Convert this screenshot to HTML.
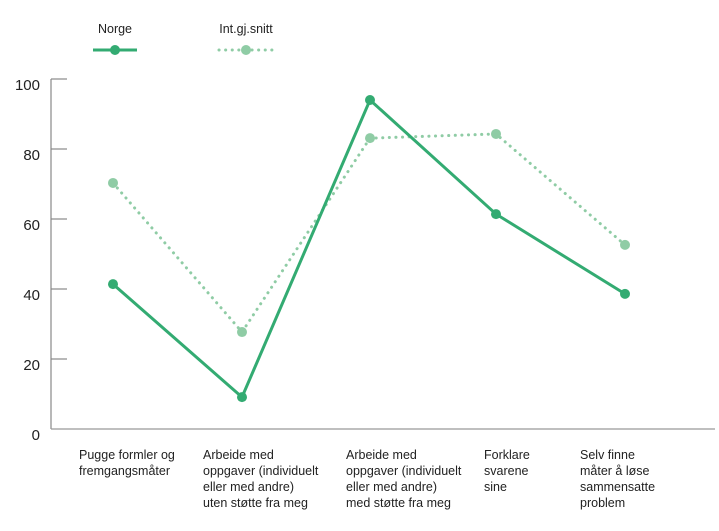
<!DOCTYPE html>
<html><head><meta charset="utf-8"><style>
body{margin:0;background:#fff;}
svg{display:block;font-family:"Liberation Sans",sans-serif;}
</style></head><body>
<svg id="c" width="719" height="531">
<g>
<text x="115" y="33" font-size="12.5" fill="#222" text-anchor="middle">Norge</text>
<line x1="93" y1="50" x2="137" y2="50" stroke="#33ab72" stroke-width="3"/>
<circle cx="115" cy="50" r="5" fill="#33ab72"/>
<text x="246" y="33" font-size="12.5" fill="#222" text-anchor="middle">Int.gj.snitt</text>
<line x1="219" y1="50" x2="274" y2="50" stroke="#8fcca5" stroke-width="3" stroke-dasharray="0.1,6.5" stroke-linecap="round"/>
<circle cx="246" cy="50" r="5" fill="#8fcca5"/>
</g>
<g id="axes"></g>
<g id="marks"></g>
</svg>
<script>
const categories=[["Pugge formler og","fremgangsmåter"],["Arbeide med","oppgaver (individuelt","eller med andre)","uten støtte fra meg"],["Arbeide med","oppgaver (individuelt","eller med andre)","med støtte fra meg"],["Forklare","svarene","sine"],["Selv finne","måter å løse","sammensatte","problem"]];
const norge=[41.4,9.1,94,61.4,38.6];
const intSnitt=[70.3,27.7,83.1,84.3,52.6];
const yTicks=[0,20,40,60,80,100];
const catX=[113,242,370,496,625];
const labelX=[79,203,346,484,580];
const ns="http://www.w3.org/2000/svg";
function y(v){return 429-v*3.5;}
function x(i){return catX[i];}
function mk(t,a,p){const e=document.createElementNS(ns,t);for(const k in a)e.setAttribute(k,a[k]);p.appendChild(e);return e;}
const ax=document.getElementById('axes'),mg=document.getElementById('marks');
let e=mk('line',{x1:51,y1:y(100),x2:51,y2:y(0),stroke:'#888','stroke-width':1.2},ax);


e=mk('line',{x1:51,y1:y(0),x2:715,y2:y(0),stroke:'#999','stroke-width':1.2},ax);


yTicks.forEach(t=>{
 if(t>0){const l=mk('line',{x1:51,y1:y(t),x2:67,y2:y(t),stroke:'#888','stroke-width':1.2},ax);
 
 }
 const tx=mk('text',{x:40,y:y(t)+11,'font-size':15,fill:'#222','text-anchor':'end'},ax);
 tx.textContent=t;
 
 
});
categories.forEach((c,i)=>{
 const tx=mk('text',{x:labelX[i],y:459,'font-size':12.5,fill:'#222'},ax);
 
 
 c.forEach((s,j)=>{const t=mk('tspan',{x:labelX[i],dy:j?16:0},tx);t.textContent=s;});
});
function series(vals,col,dash,name){
 const p=mk('polyline',{points:vals.map((v,i)=>x(i)+','+y(v)).join(' '),fill:'none',stroke:col,'stroke-width':3,'stroke-linecap':'round'},mg);
 if(dash)p.setAttribute('stroke-dasharray','0.1,6.5');
 
 
 vals.forEach((v,i)=>{const c=mk('circle',{cx:x(i),cy:y(v),r:5,fill:col},mg);
 
 });
}
series(intSnitt,'#8fcca5',true,'int-snitt');
series(norge,'#33ab72',false,'norge');
</script>
</body></html>
